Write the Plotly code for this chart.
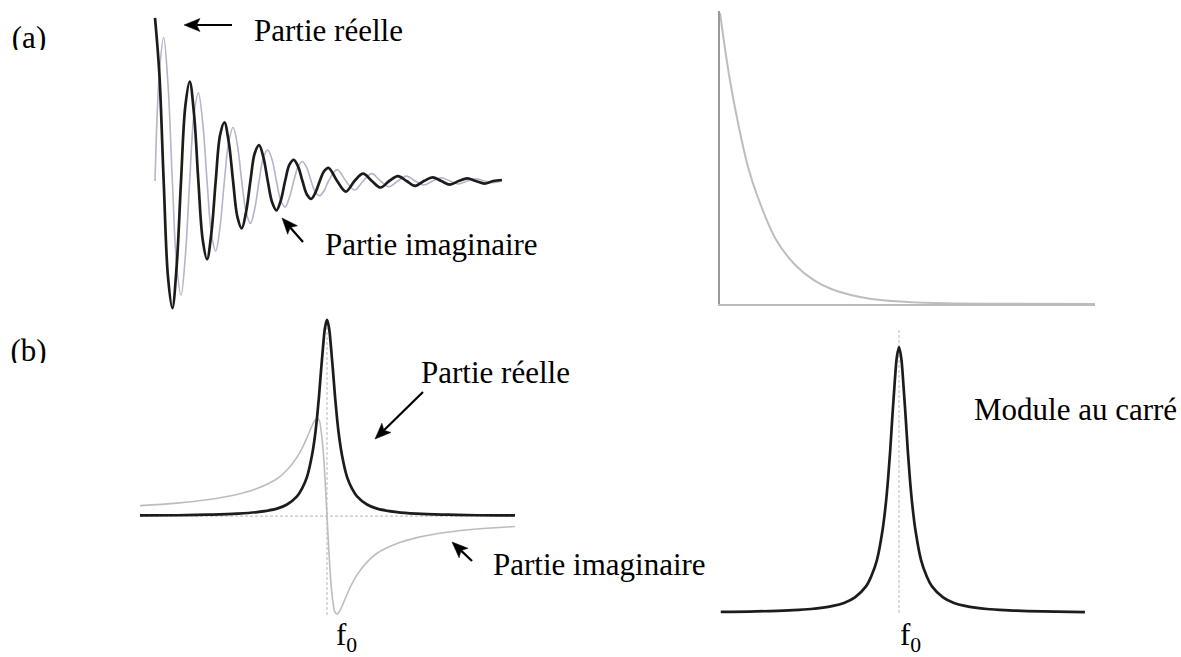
import math
import plotly.graph_objects as go

W, H = 1181, 657
SERIF = "Liberation Serif"
TXT = 31

# ---- (a) free induction decay (t in periods): eighth-period samples over the
# first five periods, quarter-period samples over the small tail ----
fid_t = [0, 0.125, 0.25, 0.375, 0.5, 0.625, 0.75, 0.875,
         1, 1.125, 1.25, 1.375, 1.5, 1.625, 1.75, 1.875,
         2, 2.125, 2.25, 2.375, 2.5, 2.625, 2.75, 2.875,
         3, 3.125, 3.25, 3.375, 3.5, 3.625, 3.75, 3.875,
         4, 4.125, 4.25, 4.375, 4.5, 4.625, 4.75, 4.875,
         5, 5.25, 5.5, 5.75, 6, 6.25, 6.5, 6.75, 7, 7.25, 7.5, 7.75,
         8, 8.25, 8.5, 8.75, 9, 9.25, 9.5, 9.75, 10]
fid_real = [1.00, 0.66, 0, -0.59, -0.78, -0.52, 0, 0.46,
            0.61, 0.41, 0, -0.36, -0.48, -0.32, 0, 0.28,
            0.36, 0.24, 0, -0.22, -0.29, -0.19, 0, 0.17,
            0.22, 0.145, 0, -0.13, -0.18, -0.12, 0, 0.10,
            0.13, 0.088, 0, -0.081, -0.11, -0.071, 0, 0.06,
            0.08, 0, -0.065, 0, 0.045, 0, -0.04, 0, 0.03, 0, -0.03, 0,
            0.022, 0, -0.022, 0, 0.016, 0, -0.016, 0, 0.006]
fid_imag = [0, 0.66, 0.88, 0.59, 0, -0.52, -0.70, -0.46,
            0, 0.41, 0.54, 0.36, 0, -0.32, -0.43, -0.28,
            0, 0.24, 0.33, 0.22, 0, -0.19, -0.26, -0.17,
            0, 0.145, 0.19, 0.13, 0, -0.12, -0.16, -0.10,
            0, 0.088, 0.12, 0.081, 0, -0.071, -0.09, -0.06,
            0, 0.07, 0, -0.055, 0, 0.045, 0, -0.035, 0, 0.03, 0, -0.025,
            0, 0.02, 0, -0.018, 0, 0.014, 0, -0.01, 0]

# ---- (a) decay envelope ----
env_t = [0, 0.25, 0.5, 0.75, 1, 1.5, 2, 2.5, 3, 4, 5, 6, 8, 10]
env_val = [1.0, 0.78, 0.61, 0.47, 0.37, 0.22, 0.135, 0.082, 0.05, 0.018,
           0.007, 0.0025, 0.0005, 0.0]

# ---- (b) spectrum: real (absorption) and imaginary (dispersion) parts ----
F0 = 0.0
spec_f = [-18.7, -15, -12, -9, -7, -5, -4, -3, -2.5, -2, -1.5, -1.2, -1, -0.8,
          -0.6, -0.4, -0.2, 0, 0.2, 0.4, 0.6, 0.8, 1, 1.2, 1.5, 2, 2.5, 3, 4, 5,
          7, 9, 12, 15, 18.8]
spec_real = [0.003, 0.004, 0.007, 0.012, 0.02, 0.038, 0.059, 0.10, 0.14, 0.20,
             0.31, 0.41, 0.50, 0.61, 0.74, 0.86, 0.96, 1.00, 0.96, 0.86, 0.74,
             0.61, 0.50, 0.41, 0.31, 0.20, 0.14, 0.10, 0.059, 0.038, 0.02,
             0.012, 0.007, 0.004, 0.003]
spec_imag = [0.053, 0.066, 0.083, 0.11, 0.14, 0.19, 0.235, 0.30, 0.345, 0.40,
             0.46, 0.49, 0.50, 0.49, 0.44, 0.345, 0.19, 0.0, -0.19, -0.345,
             -0.44, -0.49, -0.50, -0.49, -0.46, -0.40, -0.345, -0.30, -0.235,
             -0.19, -0.14, -0.11, -0.083, -0.066, -0.053]

# ---- (b) squared modulus ----
mod_f = [-16.2, -13, -10, -8, -6, -5, -4, -3, -2.5, -2, -1.5, -1.2, -1, -0.8,
         -0.6, -0.4, -0.2, 0, 0.2, 0.4, 0.6, 0.8, 1, 1.2, 1.5, 2, 2.5, 3, 4, 5,
         6, 8, 10, 13, 16.9]
mod_val = [0.004, 0.006, 0.01, 0.015, 0.027, 0.038, 0.059, 0.10, 0.14, 0.20,
           0.31, 0.41, 0.50, 0.61, 0.74, 0.86, 0.96, 1.00, 0.96, 0.86, 0.74,
           0.61, 0.50, 0.41, 0.31, 0.20, 0.14, 0.10, 0.059, 0.038, 0.027,
           0.015, 0.01, 0.006, 0.003]

panel_labels = ["(a)", "(b)"]


def xdom(p0, p1):
    return [p0 / W, p1 / W]


def ydom(p0, p1):
    return [1 - p1 / H, 1 - p0 / H]


def px(x):
    return x / W


def py(y):
    return 1 - y / H


BLACK = "#1c1c1c"
LAVENDER = "#b4b4cc"
LIGHT = "#bdbdbd"
DASH = "#c4c4c4"

fig = go.Figure()
smooth = dict(shape="spline", smoothing=1.0)

fig.add_trace(go.Scatter(x=fid_t, y=fid_imag, mode="lines", xaxis="x", yaxis="y",
                         line=dict(color=LAVENDER, width=1.6, **smooth)))
fig.add_trace(go.Scatter(x=fid_t, y=fid_real, mode="lines", xaxis="x", yaxis="y",
                         line=dict(color=BLACK, width=2.7, **smooth)))

fig.add_trace(go.Scatter(x=env_t, y=env_val, mode="lines", xaxis="x2", yaxis="y2",
                         line=dict(color=LIGHT, width=2, **smooth)))

fig.add_trace(go.Scatter(x=spec_f, y=spec_imag, mode="lines", xaxis="x3", yaxis="y3",
                         line=dict(color=LIGHT, width=1.6, **smooth)))
fig.add_trace(go.Scatter(x=spec_f, y=spec_real, mode="lines", xaxis="x3", yaxis="y3",
                         line=dict(color=BLACK, width=2.7, **smooth)))

fig.add_trace(go.Scatter(x=mod_f, y=mod_val, mode="lines", xaxis="x4", yaxis="y4",
                         line=dict(color=BLACK, width=2.7, **smooth)))

# panel letters on a full-page overlay axis so a mask can trim their base
fig.add_trace(go.Scatter(x=[29, 28.5], y=[40.2, 353.2], mode="text",
                         text=panel_labels, textposition="middle center",
                         textfont=dict(family=SERIF, size=TXT, color="black"),
                         xaxis="x5", yaxis="y5", cliponaxis=False))

hidden = dict(visible=False, showgrid=False, zeroline=False)
frame = dict(visible=True, showline=True, linewidth=2, showgrid=False,
             zeroline=False, showticklabels=False, ticks="")
fig.update_layout(
    width=W, height=H, autosize=False,
    margin=dict(l=0, r=0, t=0, b=0),
    paper_bgcolor="white", plot_bgcolor="rgba(0,0,0,0)",
    showlegend=False,
    xaxis=dict(domain=xdom(150, 512), range=[-0.144, 10.29], anchor="y", **hidden),
    yaxis=dict(domain=ydom(8, 316), range=[-0.828, 1.061], anchor="x", **hidden),
    xaxis2=dict(domain=xdom(720, 1095), range=[0, 10], anchor="y2",
                linecolor="#bcbcbc", **frame),
    yaxis2=dict(domain=ydom(11, 304), range=[0, 1.0069], anchor="x2",
                linecolor="#9a9a9a", **frame),
    xaxis3=dict(domain=xdom(138, 518), range=[-18.9, 19.1], anchor="y3", **hidden),
    yaxis3=dict(domain=ydom(318, 618), range=[-0.52, 1.01], anchor="x3", **hidden),
    xaxis4=dict(domain=xdom(719, 1088), range=[-16.36, 17.18], anchor="y4", **hidden),
    yaxis4=dict(domain=ydom(326, 616), range=[-0.0113, 1.079], anchor="x4", **hidden),
    xaxis5=dict(domain=[0, 1], range=[0, W], anchor="y5", **hidden),
    yaxis5=dict(domain=[0, 1], range=[H, 0], anchor="x5", **hidden),
)

dash_line = dict(color=DASH, width=1.2, dash="3px,2px")
shapes = [
    dict(type="line", xref="x3", yref="y3", x0=F0, x1=F0, y0=-0.505, y1=1.0,
         line=dash_line, layer="below"),
    dict(type="line", xref="x3", yref="y3", x0=spec_f[0], x1=spec_f[-1], y0=0, y1=0,
         line=dash_line, layer="below"),
    dict(type="line", xref="x4", yref="y4", x0=F0, x1=F0, y0=0, y1=1.071,
         line=dash_line, layer="below"),
    # trim the foot of the panel letters
    dict(type="rect", xref="paper", yref="paper", x0=px(4), x1=px(58),
         y0=py(64), y1=py(50), fillcolor="white", line=dict(width=0), layer="above"),
    dict(type="rect", xref="paper", yref="paper", x0=px(4), x1=px(58),
         y0=py(377), y1=py(363), fillcolor="white", line=dict(width=0), layer="above"),
]


def arrow(tail, tip, head_len=16.0, head_half=6.5, notch=12.5, width=2.2):
    """Pointer arrow drawn as a shaft plus a filled head (page pixels in)."""
    dx, dy = tip[0] - tail[0], tip[1] - tail[1]
    n = math.hypot(dx, dy)
    ux, uy = dx / n, dy / n
    nx, ny = -uy, ux
    base = (tip[0] - ux * notch, tip[1] - uy * notch)
    shapes.append(dict(type="line", xref="paper", yref="paper",
                       x0=px(tail[0]), y0=py(tail[1]), x1=px(base[0]), y1=py(base[1]),
                       line=dict(color="black", width=width), layer="above"))
    b1 = (tip[0] - ux * head_len + nx * head_half, tip[1] - uy * head_len + ny * head_half)
    b2 = (tip[0] - ux * head_len - nx * head_half, tip[1] - uy * head_len - ny * head_half)
    pts = [tip, b1, base, b2]
    path = "M " + " L ".join(f"{px(a):.5f},{py(b):.5f}" for a, b in pts) + " Z"
    shapes.append(dict(type="path", xref="paper", yref="paper", path=path,
                       fillcolor="black", line=dict(color="black", width=0.5),
                       layer="above"))


arrow((232, 25), (184, 25))
arrow((303, 242), (282, 218))
arrow((423, 392), (375, 439))
arrow((472, 561), (452, 542))

fig.update_layout(shapes=shapes)

font = dict(family=SERIF, size=TXT, color="black")
annotations = []


def label(text, x, y, anchor="left"):
    annotations.append(dict(text=text, x=px(x), y=py(y), xref="paper", yref="paper",
                            xanchor=anchor, yanchor="middle", showarrow=False,
                            font=font))


label("Partie réelle", 252, 30.5)
label("Partie imaginaire", 323, 244.5)
label("Partie réelle", 419, 372.5)
label("Partie imaginaire", 491, 564.5)
label("Module au carré", 972, 409.5)
label("f<sub>0</sub>", 334, 637)
label("f<sub>0</sub>", 898, 637)

fig.update_layout(annotations=annotations)
fig.write_html("out.html")
